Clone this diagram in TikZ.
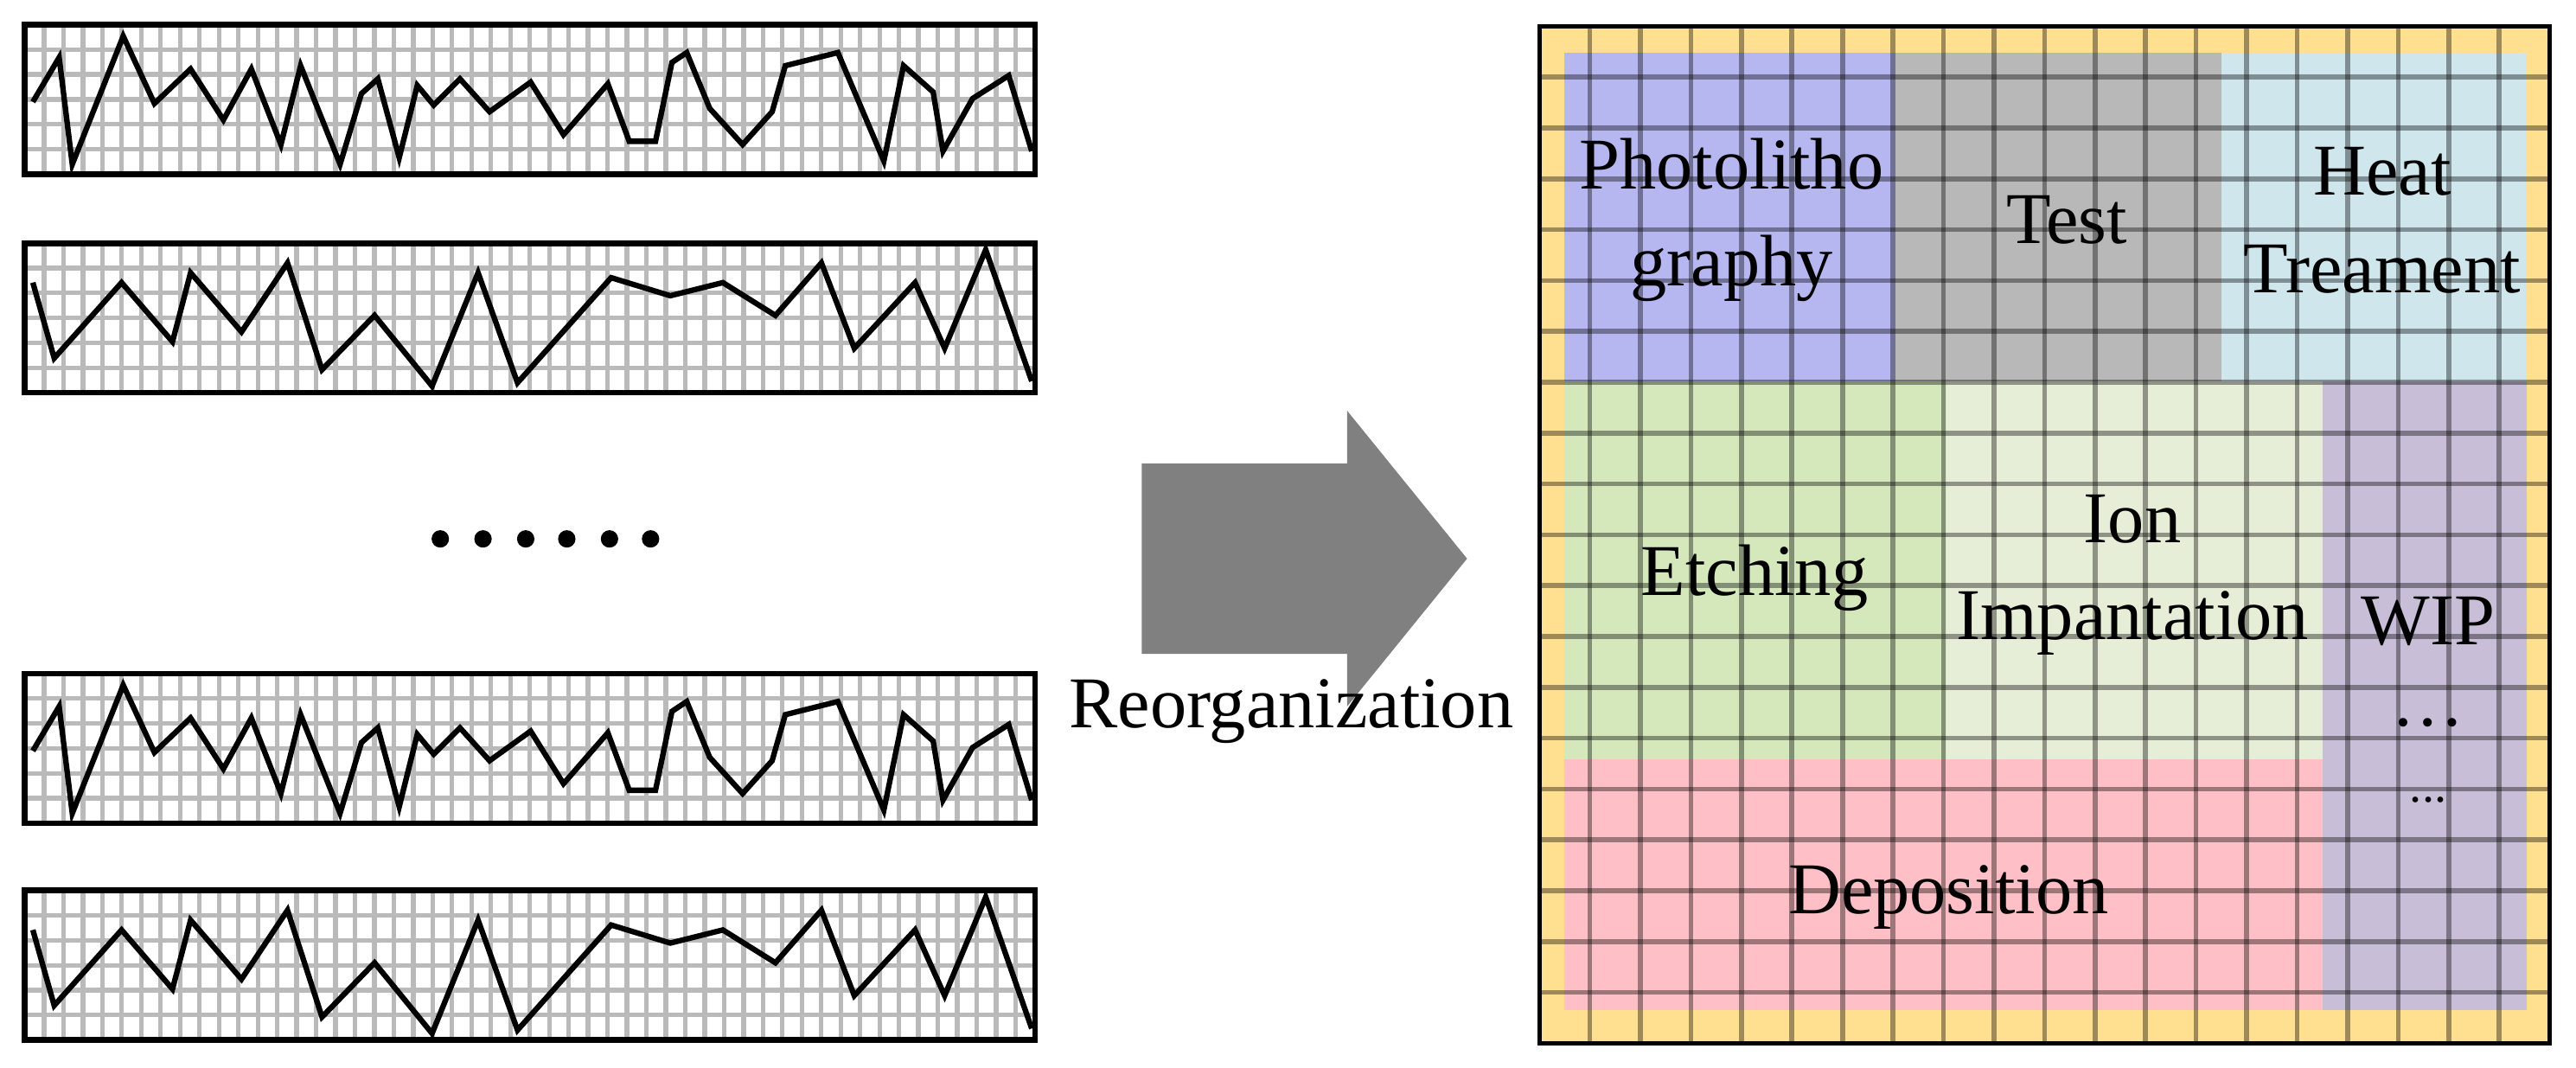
\documentclass[tikz,border=0pt]{standalone}
\usepackage{fontspec}
\setmainfont{Liberation Serif}
\begin{document}
\begin{tikzpicture}[x=0.019cm,y=-0.019cm,
  lbl/.style={font=\fontsize{24}{28}\selectfont,inner sep=0pt,align=center},
  sgrid/.style={draw=black!27,line width=1.5pt},
  sbox/.style={draw=black,line width=1.9pt},
  zig/.style={draw=black,line width=1.8pt,line join=miter},
  bgrid/.style={draw=black,opacity=0.38,line width=1.6pt}]
\useasboundingbox (0,0) rectangle (1568,650);
% strips
\foreach \t in {15,148,410,542}{
  \foreach \i in {1,...,51} \draw[sgrid] ({15+\i*(615/52)},\t) -- ({15+\i*(615/52)},{\t+91});
  \foreach \j in {1,...,5} \draw[sgrid] (15,{\t+\j*(91/6)}) -- (630,{\t+\j*(91/6)});
}
\foreach \dy in {0,395}{
\begin{scope}[shift={(0,\dy)}]
\draw[zig] (20,62)--(36,35)--(44,100)--(75,22)--(94,63)--(116,42)--(136,73)--(153,42)--(171,88)--(183,40)--(207,100)--(220,57)--(230,48)--(243,96)--(254,52)--(264,64)--(280,48)--(298,68)--(323,50)--(343,82)--(370,51)--(383,86)--(399,86)--(409,38)--(418,32)--(432,66)--(452,88)--(470,68)--(478,40)--(510,32)--(538,98)--(550,40)--(568,56)--(574,92)--(592,60)--(614,46)--(628,92);
\end{scope}}
\foreach \dy in {0,394}{
\begin{scope}[shift={(0,\dy)}]
\draw[zig] (20,172)--(33,218)--(74,172)--(105,208)--(116,166)--(147,202)--(175,160)--(196,225)--(228,192)--(263,235)--(291,166)--(315,233)--(372,169)--(408,180)--(440,172)--(472,192)--(500,160)--(520,212)--(557,172)--(575,212)--(600,152)--(628,232);
\end{scope}}
\foreach \t in {15,148,410,542} \draw[sbox] (15,\t) rectangle (630,{\t+91});
% dots
\foreach \x in {268,294,320,345,371,396} \fill (\x,328) circle (5.3);
% arrow
\fill[black!50] (695,282) -- (820,282) -- (820,250) -- (893,340) -- (820,430) -- (820,398) -- (695,398) -- cycle;
\node[lbl] (reorg) at (786,433) {Reorganization};
% right panel
\fill[fill={rgb,255:red,255;green,224;blue,145}] (937,16) rectangle (1552,635);
\fill[fill={rgb,255:red,182;green,182;blue,240}] (952,32) rectangle (1154,232);
\fill[fill={rgb,255:red,184;green,184;blue,184}] (1154,32) rectangle (1352,232);
\fill[fill={rgb,255:red,206;green,230;blue,236}] (1352,32) rectangle (1538,232);
\fill[fill={rgb,255:red,212;green,232;blue,188}] (952,232) rectangle (1185,462);
\fill[fill={rgb,255:red,231;green,238;blue,216}] (1185,232) rectangle (1414,462);
\fill[fill={rgb,255:red,200;green,190;blue,216}] (1414,232) rectangle (1538,615);
\fill[fill={rgb,255:red,254;green,192;blue,198}] (952,462) rectangle (1414,615);
\foreach \i in {1,...,19}{
  \draw[bgrid] ({937+\i*(615/20)},16) -- ({937+\i*(615/20)},635);
  \draw[bgrid] (937,{16+\i*(619/20)}) -- (1552,{16+\i*(619/20)});
}
\draw[draw=black,line width=1.4pt] (937,16) rectangle (1552,635);
\node[lbl] (photo) at (1054,134) {Photolitho\\[4pt]graphy};
\node[lbl] (test) at (1258,134) {Test};
\node[lbl] (heat) at (1450,134) {Heat\\[4pt]Treament};
\node[lbl] (etch) at (1068,352) {Etching};
\node[lbl] (ion) at (1298,350) {Ion\\[4pt]Impantation};
\node[lbl] (wip) at (1478,378) {WIP};
\node[lbl] (d1) at (1478,440) {\dots};
\node[lbl,font=\fontsize{16}{18}\selectfont] (d2) at (1478,487) {...};
\node[lbl] (dep) at (1186,546) {Deposition};
\end{tikzpicture}
\end{document}
